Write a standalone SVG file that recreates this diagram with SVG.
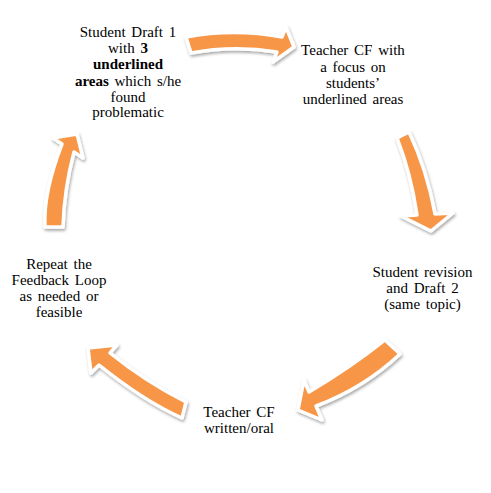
<svg xmlns="http://www.w3.org/2000/svg" width="491" height="493" viewBox="0 0 491 493">
<defs>
<filter id="sh" x="-30%" y="-30%" width="160%" height="160%">
<feDropShadow dx="1" dy="2" stdDeviation="1.8" flood-color="#000" flood-opacity="0.35"/>
</filter>
<style>
.t{font-family:"Liberation Serif","Times New Roman",serif;font-size:15px;fill:#000;text-anchor:middle;word-spacing:2px}
.b{font-weight:bold}
.arr{fill:#F79646;stroke:#fff;stroke-width:3.5;stroke-linejoin:round}
</style>
</defs>
<rect width="491" height="493" fill="#fff"/>
<g id="connectors" filter="url(#sh)">
<path class="arr" d="M186,37 Q234,28 282,37 L286,27 L294,47 L273,62 L277,52 Q233,45 191,53 Z"/>
<path class="arr" d="M397,138 L409,132 Q427,170 435,214 L453,213 L431,231 L401,216 L417,215 Q411,174 397,138 Z"/>
<path class="arr" d="M385,340 Q350,368 309,392 L304,380 L298,410 L322,420 L316,406 Q364,388 400,354 Z"/>
<path class="arr" d="M186,402 Q146,382 110,353 L117,345 L88,348 L91,373 L99,365 Q144,401 182,418 Z"/>
<path class="arr" d="M45,227 Q43,193 62,144 L53,138 L77,134 L83,158 L74,152 Q64,190 63,227 Z"/>
</g>
<g id="node-draft1">
<text class="t" x="128" y="37">Student Draft 1</text>
<text class="t" x="128" y="53">with <tspan class="b">3</tspan></text>
<text class="t b" x="128" y="69">underlined</text>
<text class="t" x="128" y="85.5"><tspan class="b">areas</tspan> which s/he</text>
<text class="t" x="128" y="101.5">found</text>
<text class="t" x="128" y="117">problematic</text>
</g>
<g id="node-teacher-cf">
<text class="t" x="353" y="55">Teacher CF with</text>
<text class="t" x="353" y="71.5">a focus on</text>
<text class="t" x="353" y="87.5">students’</text>
<text class="t" x="353" y="104">underlined areas</text>
</g>
<g id="node-revision">
<text class="t" x="422.5" y="277">Student revision</text>
<text class="t" x="422.5" y="293">and Draft 2</text>
<text class="t" x="422.5" y="309">(same topic)</text>
</g>
<g id="node-teacher-cf2">
<text class="t" x="239" y="417">Teacher CF</text>
<text class="t" x="239" y="433">written/oral</text>
</g>
<g id="node-repeat">
<text class="t" x="59" y="268.5">Repeat the</text>
<text class="t" x="59" y="284.5">Feedback Loop</text>
<text class="t" x="59" y="300.5">as needed or</text>
<text class="t" x="59" y="316.5">feasible</text>
</g>
</svg>
